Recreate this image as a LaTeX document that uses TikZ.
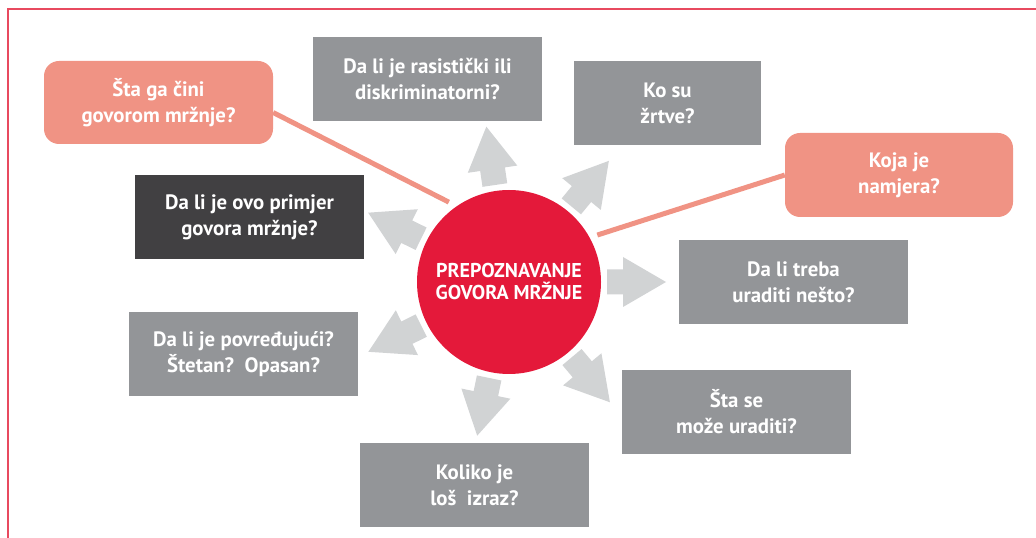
\documentclass[tikz,border=0pt]{standalone}
\usepackage{fontspec}
\setmainfont{PT Sans}
\usetikzlibrary{calc,positioning}
\definecolor{hatered}{HTML}{E4193A}
\definecolor{salmon}{HTML}{F09384}
\definecolor{boxgrey}{HTML}{939598}
\definecolor{boxdark}{HTML}{414042}
\definecolor{arrowgrey}{HTML}{D1D3D4}
\definecolor{framered}{HTML}{E84A5F}

\begin{document}
\begin{tikzpicture}[x=1pt,y=1pt,
  qbox/.style={fill=boxgrey,text=white,minimum width=229pt,minimum height=84pt,
    inner sep=0pt,align=center,font=\bfseries\fontsize{20.8}{26}\selectfont},
  darkbox/.style={qbox,fill=boxdark},
  keybox/.style={qbox,fill=salmon,rounded corners=15pt},
  link/.style={salmon,line width=5pt}]
\useasboundingbox (0,0) rectangle (1036,538);
\draw[framered,line width=1.5pt] (8,0)--(8,529)--(1036,529);
% centre
\node[circle,fill=hatered,minimum size=184pt,inner sep=0pt,outer sep=8pt,text=white,
  align=center,font=\bfseries\fontsize{20}{22}\selectfont] (core) at (509,256)
  {PREPOZNAVANJE\\GOVORA MRŽNJE};
\foreach \a in {98.3,50.5,0,-50,-101.7,206.4,153.8}
{\fill[arrowgrey,shift={(core.center)},rotate=\a] (98,-12.5)--(114,-12.5)--(114,-25)--(157,0)--(114,25)--(114,12.5)--(98,12.5)--cycle;}
% questions
\node[qbox] (rasist) at (427.5,459) {Da li je rasistički ili\\diskriminatorni?};
\node[qbox,minimum width=187pt] (zrtve) at (667.5,435) {Ko su\\žrtve?};
\node[keybox,minimum width=228pt] (namjera) at (899,363) {Koja je\\namjera?};
\node[qbox] (treba) at (793.5,256) {Da li treba\\uraditi nešto?};
\node[qbox] (moze) at (736.5,126) {Šta se\\može uraditi?};
\node[qbox] (koliko) at (474.5,53) {Koliko je\\loš\ \ izraz?};
\node[qbox] (povred) at (243.5,184) {Da li je povređujući?\\Štetan?\ \ Opasan?};
\node[darkbox] (primjer) at (249.5,321) {Da li je ovo primjer\\govora mržnje?};
\node[keybox,minimum height=83pt] (cini) at (158.5,435.5) {Šta ga čini\\govorom mržnje?};
\draw[link] (cini.-5)--(core.127.7);
\draw[link] (namjera.west)--(core.28.1);
\end{tikzpicture}
\end{document}
